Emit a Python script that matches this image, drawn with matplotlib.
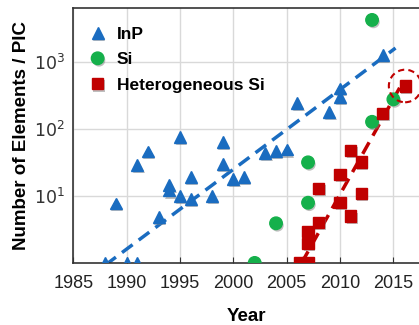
import matplotlib.pyplot as plt
import matplotlib.patheffects as pe

plt.rcParams['font.family'] = ['Liberation Sans', 'DejaVu Sans']

# InP
inp_year = [1988, 1989, 1990, 1991, 1991, 1992, 1993, 1994, 1994, 1995, 1995, 1996, 1996,
            1998, 1999, 1999, 2000, 2001, 2003, 2004, 2005, 2006, 2009, 2010, 2010, 2014]
inp_val = [1, 7.7, 1, 1, 29, 46, 4.9, 14.5, 12, 10, 75, 19, 9,
           10, 30, 64, 17.6, 19, 44, 47, 49, 240, 178, 300, 400, 1260]

# Si
si_year = [2002, 2004, 2007, 2007, 2013, 2013, 2015]
si_val = [1, 3.9, 7.9, 31.6, 127, 4200, 275]

# Heterogeneous Si
het_year = [2006.2, 2007, 2007, 2007, 2008, 2008, 2010, 2010, 2011, 2011, 2012, 2012, 2014, 2016.1]
het_val = [1, 1, 1.95, 2.9, 4, 12.9, 7.9, 21, 5, 48, 11, 32, 170, 435]

# trend lines (end points)
inp_trend_x = [1988, 2015.2]
inp_trend_y = [0.93, 1600]
het_trend_x = [2006.4, 2015.7]
het_trend_y = [1.0, 440]

blue = '#1a6cc0'
green = '#15b04b'
red = '#c00000'

fig = plt.figure(figsize=(4.19, 3.25), dpi=100)
ax = fig.add_axes([0.175, 0.191, 0.825, 0.784])

shadow = [pe.SimplePatchShadow(offset=(1, -1.5), shadow_rgbFace='0.5', alpha=0.5), pe.Normal()]

ax.plot(inp_trend_x, inp_trend_y, color=blue, lw=2.5, ls=(0, (3.8, 2.2)), zorder=2)
ax.plot(het_trend_x, het_trend_y, color=red, lw=2.5, ls=(0, (3.8, 2.2)), zorder=2)

l1, = ax.plot(inp_year, inp_val, '^', color=blue, ms=8.5, ls='none', label='InP', zorder=3)
l2, = ax.plot(si_year, si_val, 'o', color=green, ms=9, ls='none', label='Si', zorder=3)
l3, = ax.plot(het_year, het_val, 's', color=red, ms=8, ls='none', label='Heterogeneous Si', zorder=3)
for l in (l1, l2, l3):
    l.set_path_effects(shadow)

# dashed circle around the latest point
ax.scatter([het_year[-1]], [het_val[-1]], s=550, facecolors='none', edgecolors=red,
           linewidths=1.5, linestyles=(0, (3, 2)), zorder=4)

ax.set_yscale('log')
ax.set_xlim(1985, 2017.4)
ax.set_ylim(1, 6300)
ax.set_xticks([1985, 1990, 1995, 2000, 2005, 2010, 2015])
ax.set_yticks([10, 100, 1000])
ax.set_yticklabels([r'$10^1$', r'$10^2$', r'$10^3$'])
ax.minorticks_off()
ax.tick_params(axis='x', direction='in', length=4, labelsize=13, colors='#333333',
               labelcolor='#222222', pad=9)
ax.tick_params(axis='y', length=0, labelsize=12.5, labelcolor='#333333', pad=6)
ax.grid(True, color='#d9d9d9', lw=1)
ax.set_axisbelow(True)
for s in ('left', 'bottom', 'top'):
    ax.spines[s].set_color('#333333')
    ax.spines[s].set_linewidth(1.2)
ax.spines['right'].set_visible(False)

ax.set_xlabel('Year', fontsize=13.5, fontweight='bold', labelpad=11)
ax.set_ylabel('Number of Elements / PIC', fontsize=13.5, fontweight='bold', labelpad=3)

ax.legend(handles=[l1, l2, l3], loc='upper left', bbox_to_anchor=(-0.005, 0.975), frameon=False,
          prop={'weight': 'bold', 'size': 12.5}, handletextpad=0.3, labelspacing=0.6,
          borderaxespad=0.3, handlelength=1.6)

fig.savefig('out.png', dpi=100)
